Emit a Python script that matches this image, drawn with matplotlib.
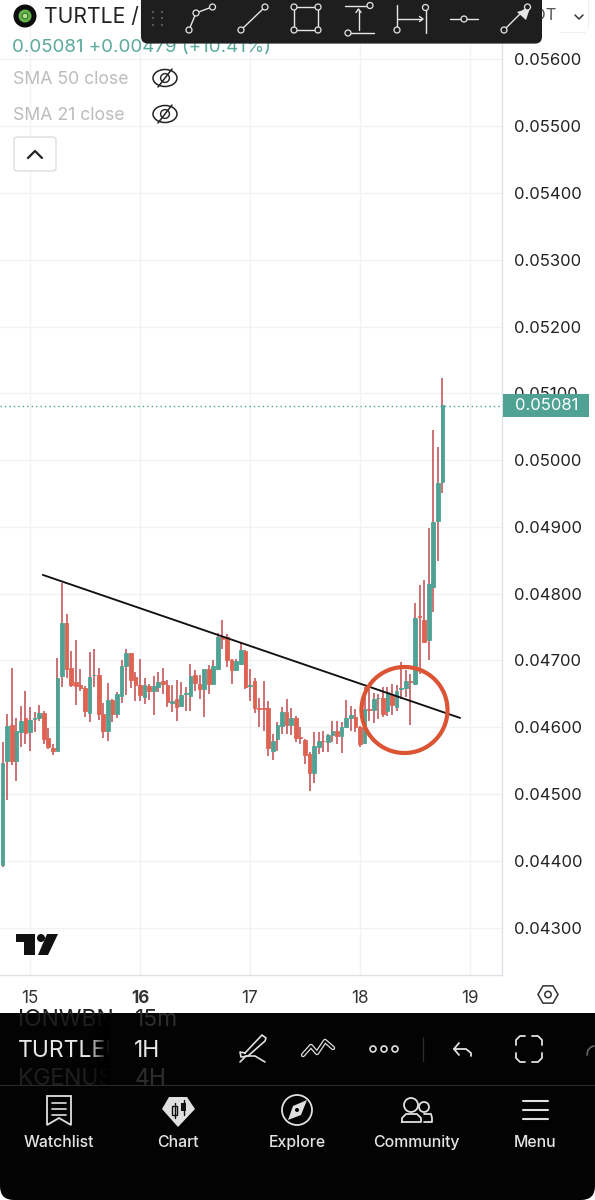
# -*- coding: utf-8 -*-
import numpy as np
import matplotlib
matplotlib.use("Agg")
import matplotlib.pyplot as plt
from matplotlib.patches import Circle, Rectangle, FancyBboxPatch, Polygon, Ellipse

plt.rcParams['font.family'] = ['Inter', 'DejaVu Sans']

# candles in units of 0.00001
opens = [4394,4549,4604,4550,4593.5,4614,4592.5,4612,4613.5,4622,4584.5,4569,4564.5,4676,4755.5,4688.5,4667,4663,4658,4622,
         4677.5,4678.5,4620,4595,4640.5,4619.5,4646.5,4691,4710.5,4674.5,4663,4645,4662,4654,4660,4668.5,4663.5,4636,4642.5,4632.5,
         4650,4647,4677.5,4665,4657.5,4687.5,4665,4687.5,4735,4735,4701,4685,4694,4714,4662,4668.5,4628.5,4628.5,4628.5,4565,
         4582,4602.5,4623.5,4604,4614,4586,4581.5,4560,4531,4571,4580,4578.5,4589,4595,4586.5,4601,4613.5,4615.5,4601,4576,
         4627.5,4626,4643,4643,4624,4647.5,4631,4657,4658.5,4668.5,4665,4766,4761,4731,4810,4908.5,4967]
highs = [4577.5,4620,4689,4614,4632,4654,4631,4622.5,4633,4625,4598.5,4575,4703.5,4816,4770,4714,4731,4687,4662,4712.5,
         4717.5,4689,4636,4665.5,4642.5,4652.5,4700,4717.5,4711.5,4682.5,4702.5,4674,4665,4676,4682.5,4688,4670,4662.5,4670,4667.5,
         4660,4695,4685,4678.5,4687.5,4692.5,4700,4741.5,4760,4740,4702.5,4702.5,4726,4715,4687.5,4674,4644,4668.5,4639,4590,
         4607.5,4630,4642,4629,4617.5,4601,4582.5,4562.5,4592.5,4592.5,4595,4590,4609,4609,4607.5,4641,4632.5,4627.5,4602.5,4660,
         4657.5,4651,4649,4660,4660,4664,4662.5,4697.5,4685,4680,4786,4812.5,4820,4899,5045,5020,5122.5]
lows = [4391,4491,4543,4520,4570,4575,4565,4592.5,4610,4575,4567.5,4558,4564.5,4660,4674,4660,4633.5,4654,4615,4608,
        4660,4611,4584,4580,4608,4613.5,4636.5,4647.5,4659,4640,4640,4635,4641,4619,4652.5,4650,4630,4622.5,4610,4631.5,
        4625,4625,4654,4642.5,4615,4650,4664,4687.5,4717.5,4690,4665,4684,4692.5,4657.5,4640,4621,4600,4594,4557.5,4551,
        4565,4590,4590,4589,4577.5,4575,4545,4504,4516,4560,4562.5,4562.5,4577.5,4575,4561,4601,4594,4592.5,4570,4575,
        4610,4606,4612.5,4616,4617.5,4618.5,4624,4642.5,4645,4603.5,4662.5,4679,4726,4700,4772.5,4849,4951.5]
closes = [4546.5,4601.5,4550,4594.5,4609,4591,4611.5,4613.5,4622,4582.5,4571,4564,4674,4755.5,4687.5,4663,4662,4658,4624,4674.5,
          4678.5,4620.5,4594.5,4641.5,4619.5,4649,4691,4710.5,4670.5,4663,4647.5,4662.5,4654,4661.5,4667,4664.5,4638.5,4639.5,4631,4648.5,
          4651,4676,4666,4657.5,4687.5,4665,4691,4735,4732.5,4701,4685,4699,4716,4660,4663,4628.5,4627.5,4627,4568.5,4580,
          4604,4622.5,4604,4614,4584,4584,4559,4531,4572.5,4580,4579,4588.5,4595,4587.5,4600,4613.5,4618.5,4601,4575,4627.5,
          4626,4642.5,4644,4620,4652.5,4633.5,4654,4658.5,4668.5,4667.5,4764,4764.5,4727.5,4814,4907.5,4965,5082]

price_ticks = [5600,5500,5400,5300,5200,5100,5000,4900,4800,4700,4600,4500,4400,4300]
day_ticks = [6,30,54,78,102]
day_labels = ['15','16','17','18','19']
trend_x = [8.84,99.8]
trend_y = [4828,4614]
last_price = 5081
nav_labels = ['Watchlist','Chart','Explore','Community','Menu']

GREEN = '#4fa294'
RED = '#df6353'
WICK = '#c9646a'
GRID = '#f1f2f6'
BORDER = '#dfe1e6'

SCALE = 1e-5
opens, highs, lows, closes = [np.array(a)*SCALE for a in (opens,highs,lows,closes)]
idx = np.arange(len(opens))

fig = plt.figure(figsize=(5.95,12.0),dpi=100,facecolor='white')
ax = fig.add_axes([0,1-975/1200,502/595,975/1200])
ax.set_xlim(-0.546,108.99)
ax.set_ylim(0.042289,0.056891)

ax.set_axisbelow(True)
ax.grid(True,color=GRID,lw=1.0)
ax.yaxis.tick_right()
ax.set_yticks(np.array(price_ticks)*SCALE)
ax.set_yticklabels(['%.5f' % (p*SCALE) for p in price_ticks])
ax.set_xticks(day_ticks)
ax.set_xticklabels(day_labels)
ax.tick_params(axis='y',length=0,pad=8.5,labelsize=12,labelcolor='#222222')
ax.tick_params(axis='x',length=0,pad=10.5,labelsize=12.3,labelcolor='#333333')
ax.get_xticklabels()[1].set_fontweight('bold')
for side in ['top','left']:
    ax.spines[side].set_visible(False)
for side in ['right','bottom']:
    ax.spines[side].set_color(BORDER)
    ax.spines[side].set_linewidth(1.0)

up = closes >= opens
ax.vlines(idx,lows,highs,color=WICK,lw=1.3,zorder=3)
ax.bar(idx[up],(closes-opens)[up],bottom=opens[up],width=0.8,color=GREEN,edgecolor=GREEN,lw=0.6,zorder=4)
ax.bar(idx[~up],(opens-closes)[~up],bottom=closes[~up],width=0.8,color=RED,edgecolor=RED,lw=0.6,zorder=4)
ax.plot(trend_x,np.array(trend_y)*SCALE,color='#111111',lw=1.35,zorder=5)
ax.axhline(last_price*SCALE,color=GREEN,lw=1.0,ls=(0,(1,2.2)),zorder=2)

# overlay in screen pixels for the app chrome
ui = fig.add_axes([0,0,1,1],facecolor='none')
ui.set_xlim(0,595)
ui.set_ylim(1200,0)
ui.axis('off')

def line(xs,ys,c='#e6e6e6',lw=1.0,z=20):
    ui.plot(xs,ys,color=c,lw=lw,solid_capstyle='round',zorder=z)

def ring(x,y,r=3.0,c='#e6e6e6',z=21,face='#1e1e1e'):
    ui.add_patch(Circle((x,y),r,fc=face,ec=c,lw=0.9,zorder=z))

# red hand drawn circle
ui.add_patch(Circle((404.5,710),43,fc='none',ec='#db5433',lw=3.0,zorder=8))

# price tag
ui.add_patch(Rectangle((503,394),86,23,fc=GREEN,ec='none',zorder=9))
ui.text(547,405.5,'0.05081',color='white',fontsize=12,ha='center',va='center',zorder=10)

# header
ui.add_patch(Circle((25,16),11.5,fc='#0c0c0c',ec='none',zorder=6))
ui.add_patch(Circle((25,16),6.5,fc='#63b34a',ec='none',zorder=7))
ui.add_patch(Circle((25,16),2.8,fc='#b7e08e',ec='#1e5a22',lw=0.6,zorder=7))
ui.text(44,17,'TURTLE /',color='#222222',fontsize=15.2,va='center',zorder=6)
ui.text(556,16,'OT',color='#555555',fontsize=12,ha='right',va='center',zorder=6)
line([575,579,583],[15,19,15],c='#333333',lw=1.1,z=6)
line([588,588],[0,28],c='#f0f0f0',lw=0.8,z=5)
line([560,585],[32,32],c='#f0f0f0',lw=0.8,z=5)
ui.text(12,47,'0.05081 +0.00479 (+10.41%)',color='#59a99c',fontsize=13.5,va='center',zorder=6)
for label,y in [('SMA 50 close',79),('SMA 21 close',115)]:
    ui.text(13,y,label,color='#bcbcbc',fontsize=12.7,va='center',zorder=6)
    ui.add_patch(Ellipse((165,y-1),24,17,fc='none',ec='#222222',lw=1.1,zorder=6))
    ui.add_patch(Circle((165,y-1),4.4,fc='none',ec='#222222',lw=1.0,zorder=6))
    line([158,172],[y+8,y-10],c='#222222',lw=1.1,z=6)
ui.add_patch(FancyBboxPatch((14,137),42,34,boxstyle='round,pad=0,rounding_size=3',fc='white',ec='#dddddd',lw=1.0,zorder=6))
line([28,35,42],[158,151,158],c='#222222',lw=1.6,z=7)

# dark drawing toolbar
ui.add_patch(FancyBboxPatch((142,-10),400,54,boxstyle='round,pad=0,rounding_size=7',fc='#8a8a8a',ec='none',alpha=0.35,zorder=17))
ui.add_patch(FancyBboxPatch((141,-10),401,53.5,boxstyle='round,pad=0,rounding_size=7',fc='#1e1e1e',ec='none',zorder=18))
for dx in [153,162]:
    for dy in [12,18,25]:
        ui.add_patch(Circle((dx,dy),1.1,fc='#5c5c5c',ec='none',zorder=20))
line([189,196,212],[30,13,7])
for p in [(189,30),(196,13),(212.5,7)]:
    ring(*p)
line([241,265],[30,7])
ring(241,30); ring(265,7)
line([294,318,318,294,294],[7,7,30,30,7])
for p in [(294,7),(318,7),(294,30),(318,30)]:
    ring(*p)
line([345,367],[5.5,5.5]); ring(370,5.5)
line([348,374],[33,33]); ring(348,33)
line([358.5,358.5],[30,10])
line([356,358.5,361],[12.5,9,12.5])
line([397,397],[5,28]); ring(397,30)
line([425.5,425.5],[10,33]); ring(425.5,7.5)
line([397,422],[19,19])
line([419.5,423,419.5],[16.5,19,21.5])
line([450,478],[19,19]); ring(464,19)
line([504,525],[30,9]); ring(504,30); ring(527.5,7)
ui.add_patch(Polygon([[530,8],[526,20],[517,12]],fc='#e6e6e6',ec='none',zorder=20))

# tradingview logo
ui.add_patch(Polygon([[16,934],[35,934],[35,955],[24,955],[24,942],[16,942]],fc='#111111',ec='none',zorder=6))
ui.add_patch(Circle((41,938),4.0,fc='#111111',ec='none',zorder=6))
ui.add_patch(Polygon([[47,934],[58,934],[48,955],[38,955]],fc='#111111',ec='none',zorder=6))

# settings hexagon on the axis corner
a = np.deg2rad(np.arange(0,360,60))
ui.add_patch(Polygon(np.c_[548+10*np.cos(a),994.5+10*np.sin(a)],fc='none',ec='#333333',lw=1.1,zorder=6))
ui.add_patch(Circle((548,994.5),3.2,fc='none',ec='#333333',lw=1.1,zorder=6))

# black bottom panel
ui.add_patch(FancyBboxPatch((0,1013),595,187,boxstyle='round,pad=0,rounding_size=14',fc='#030303',ec='none',zorder=11))
ui.add_patch(Rectangle((0,1013),595,40,fc='#030303',ec='none',zorder=11))
panel = Rectangle((0,1013),595,72,transform=ui.transData)
for label,x,y,c in [('IONWBN',18,1026,'#1f1f1f'),('15m',135,1026,'#2e2e2e'),('KGENUS',18,1085,'#1f1f1f'),('4H',135,1085,'#2e2e2e')]:
    t = ui.text(x,y,label,color=c,fontsize=16.5,va='baseline',zorder=12)
    t.set_clip_path(panel)
ui.text(18,1057,'TURTLEU',color='#e8e8e8',fontsize=16.5,va='baseline',zorder=12)
ui.text(134,1057,'1H',color='#e8e8e8',fontsize=16.5,va='baseline',zorder=12)
fade = np.zeros((1,30,4))
fade[0,:,3] = np.linspace(0,1,30)
ui.imshow(fade,extent=(88,110,1088,1014),aspect='auto',zorder=13)
ui.add_patch(Rectangle((110,1014),22,71,fc='#030303',ec='none',zorder=13))
ui.set_xlim(0,595)
ui.set_ylim(1200,0)
line([0,595],[1085,1085],c='#2a2a2a',lw=0.8,z=14)

# panel tools
W = '#e0e0e0'
line([245,262,266,265,248,241,240,245],[1053,1035,1038,1041,1056,1057,1052,1053],c=W,lw=1.2,z=14)
line([240,246,255,265],[1062,1056,1056,1062],c=W,lw=1.2,z=14)
line([303,311,317,325,333],[1055,1046,1053,1041,1048],c=W,lw=3.2,z=14)
line([303,311,317,325,333],[1055,1046,1053,1041,1048],c='#030303',lw=1.4,z=15)
for x in [373,384,395]:
    ui.add_patch(Circle((x,1049),3.0,fc='none',ec=W,lw=1.2,zorder=14))
line([423,423],[1037,1061],c='#2a2a2a',lw=1.0,z=14)
line([459,454,459],[1043,1049,1055],c=W,lw=1.3,z=14)
line([454,466,471,471],[1049,1049,1053,1056],c=W,lw=1.3,z=14)
for xs,ys in [([516,516,520,525],[1045,1040,1036,1036]),([532,538,542,542],[1036,1036,1040,1045]),
              ([516,516,520,525],[1053,1058,1062,1062]),([532,538,542,542],[1062,1062,1058,1053])]:
    line(xs,ys,c=W,lw=1.3,z=14)
line([587,588,591,594],[1055,1050,1047,1046],c='#666666',lw=1.2,z=14)

# navigation bar
for label,x in zip(nav_labels,[59,178,297,416,535]):
    ui.text(x,1142.5,label,color='#e4e4e4',fontsize=11.4,ha='center',va='center',zorder=14,fontweight='medium')
ui.add_patch(Polygon([[47,1096],[71,1096],[71,1125],[59,1118],[47,1125]],fc='none',ec=W,lw=1.3,zorder=14))
for y in [1103,1109,1115]:
    line([52,66],[y,y],c=W,lw=1.2,z=14)
ui.add_patch(Polygon([[169,1097],[187,1097],[195,1109],[178,1127],[162,1109]],fc=W,ec='none',zorder=14))
ui.add_patch(Rectangle((172,1106),5,9,fc=W,ec='#111111',lw=1.0,zorder=15))
ui.add_patch(Rectangle((181,1103),5,8,fc='#111111',ec='none',zorder=15))
line([174.5,174.5],[1103,1118],c='#111111',lw=1,z=15)
line([183.5,183.5],[1100,1115],c='#111111',lw=1,z=15)
ui.add_patch(Circle((297,1110),15,fc='none',ec=W,lw=1.3,zorder=14))
ui.add_patch(Polygon([[307,1100],[301,1115],[288,1120],[293,1106]],fc=W,ec='none',zorder=14))
ui.add_patch(Circle((297,1110),2,fc='#030303',ec='none',zorder=15))
ui.add_patch(Circle((411,1105),7,fc='none',ec=W,lw=1.3,zorder=14))
ui.add_patch(Circle((424,1107),5,fc='none',ec=W,lw=1.3,zorder=14))
line([402,402,406,417,421,421,402],[1122,1118,1114,1114,1118,1122,1122],c=W,lw=1.3,z=14)
line([424,431,432,432,424],[1114,1114,1118,1122,1122],c=W,lw=1.3,z=14)
for y in [1101,1110,1119]:
    line([523,548],[y,y],c=W,lw=1.5,z=14)

fig.savefig('out.png',dpi=100)
